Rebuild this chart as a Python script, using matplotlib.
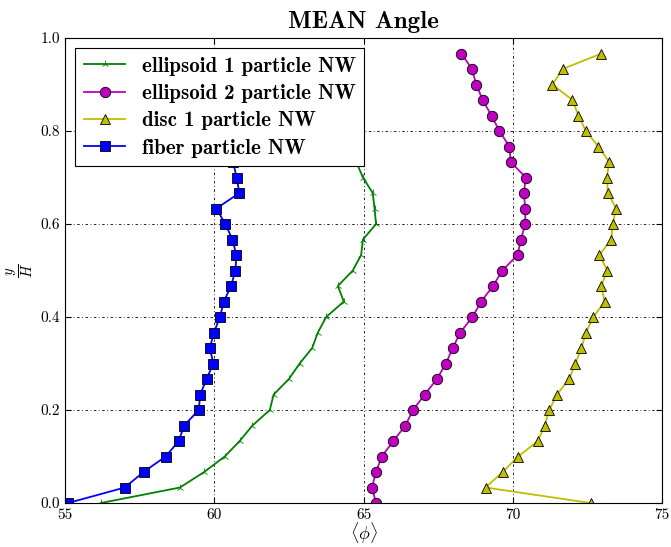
import numpy as np
import matplotlib
matplotlib.use("Agg")
import matplotlib.pyplot as plt

y_pos = [i / 30 for i in range(30)]

ellipsoid1 = [56.2, 58.85, 59.66, 60.35, 60.85, 61.28, 61.86, 61.99, 62.5, 62.86,
              63.28, 63.47, 63.75, 64.34, 64.14, 64.64, 64.92, 64.98, 65.42, 65.37,
              65.31, 64.98, 64.76, 64.5, 64.2, 63.9, 63.7, 63.5, 63.3, 63.1]
ellipsoid2 = [65.42, 65.28, 65.42, 65.61, 66.0, 66.4, 66.66, 67.05, 67.46, 67.76,
              67.99, 68.24, 68.65, 68.94, 69.34, 69.65, 70.16, 70.27, 70.42, 70.42,
              70.37, 70.44, 69.93, 69.89, 69.55, 69.29, 68.99, 68.78, 68.63, 68.28]
disc1 = [72.61, 69.09, 69.66, 70.18, 70.84, 71.07, 71.22, 71.48, 71.89, 72.1,
         72.3, 72.45, 72.7, 73.08, 72.96, 73.17, 72.9, 73.3, 73.35, 73.46,
         73.19, 73.15, 73.23, 72.87, 72.45, 72.2, 72.0, 71.33, 71.67, 72.97]
fiber = [55.1, 57.0, 57.63, 58.37, 58.81, 58.99, 59.48, 59.53, 59.74, 59.97,
         59.85, 59.99, 60.19, 60.32, 60.56, 60.71, 60.74, 60.61, 60.37, 60.07,
         60.84, 60.75, 60.63, 60.7, 60.8, 60.9, 60.8, 60.7, 60.6, 60.5]

labels = ["ellipsoid 1 particle NW", "ellipsoid 2 particle NW",
          "disc 1 particle NW", "fiber particle NW"]
x_ticks = [55, 60, 65, 70, 75]
y_ticks = [0.0, 0.2, 0.4, 0.6, 0.8, 1.0]

plt.rcParams['mathtext.fontset'] = 'cm'
plt.rcParams['font.family'] = 'cmr10'
plt.rcParams['axes.formatter.use_mathtext'] = True

fig = plt.figure(figsize=(6.71, 5.47), dpi=100)
ax = fig.add_axes([0.0969, 0.0804, 0.8897, 0.8501])

ax.plot(ellipsoid1, y_pos, color=(0, 0.5, 0), lw=1.3, marker='2', ms=6, mew=0.6,
        label=labels[0])
ax.plot(ellipsoid2, y_pos, color=(0.75, 0, 0.75), lw=1.3, marker='o', ms=7.5,
        mec='black', mew=0.6, label=labels[1])
ax.plot(disc1, y_pos, color=(0.75, 0.75, 0), lw=1.3, marker='^', ms=7.5,
        mec='black', mew=0.6, label=labels[2])
ax.plot(fiber, y_pos, color=(0, 0, 1), lw=1.3, marker='s', ms=7.5,
        mec='black', mew=0.6, label=labels[3])

ax.set_xlim(55, 75)
ax.set_ylim(0, 1.0)
ax.set_xticks(x_ticks)
ax.set_yticks(y_ticks)
ax.set_xticklabels([str(v) for v in x_ticks])
ax.set_yticklabels([f"{v:.1f}" for v in y_ticks])
ax.tick_params(direction='in', top=True, right=True, labelsize=11, length=4)
ax.grid(True, color='black', linestyle=(0, (1, 3, 3, 3)), linewidth=0.6)

ax.set_xlabel(r'$\langle\phi\rangle$', fontsize=13, labelpad=-1)
ax.set_ylabel(r'$\frac{y}{H}$', fontsize=15)
ax.set_title('MEAN Angle', fontfamily='cmb10', fontsize=18, pad=7)

leg = ax.legend(loc='upper left', prop={'family': 'cmb10', 'size': 15},
                fancybox=False, framealpha=1, edgecolor='black',
                borderaxespad=0.5, handlelength=2.0, labelspacing=0.4)
leg.get_frame().set_linewidth(0.8)

fig.savefig('out.png', dpi=100)
